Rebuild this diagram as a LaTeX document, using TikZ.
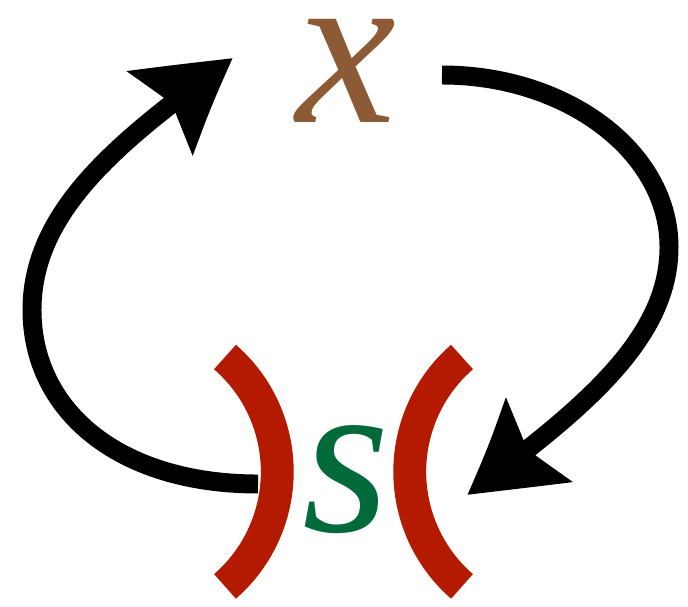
\documentclass[tikz,border=0pt]{standalone}
\usepackage{fontspec}
\setmainfont{Liberation Serif}
\usetikzlibrary{arrows.meta, bending}

\definecolor{xbrown}{RGB}{140,90,52}
\definecolor{sgreen}{RGB}{0,106,58}
\definecolor{parred}{RGB}{180,26,0}

\begin{document}
\begin{tikzpicture}[
    x=0.02cm, y=0.02cm,
    % Define the style for the two letters
    letter/.style={inner sep=0pt, font=\fontsize{128}{128}\selectfont\itshape},
    % Define the style for the curved arrows
    loop arrow/.style={line width=10.8pt,
        -{Stealth[length=1.86cm, width=2.04cm, inset=0.3cm, bend]}},
    % Define the style for the two brackets
    bracket/.style={draw=parred, line width=18.7pt}
]

    % --- Configuration ---
    \def\radius{3.04cm} % Radius of the brackets

    \useasboundingbox (0,0) rectangle (688,606);

    % --- The Two Letters ---
    \node[letter, text=xbrown] (x) at (346,535) {x};
    \node[letter, text=sgreen] (s) at (346,126) {s};

    % --- The Brackets round s ---
    \draw[bracket] (225,249) arc[start angle=49, end angle=-49, radius=\radius];
    \draw[bracket] (462,249) arc[start angle=131, end angle=229, radius=\radius];

    % --- Free ends of the arrows ---
    \coordinate (xout) at (442,531);
    \coordinate (sin)  at (467,111);
    \coordinate (sout) at (258,122);
    \coordinate (xin)  at (233,548);

    % Right arrow: from x down to the right bracket
    \draw[loop arrow] (xout) .. controls (567,531) and (669,454) .. (669,359)
                             .. controls (669,269) and (587,199) .. (sin);

    % Left arrow: from the left bracket back up to x
    \draw[loop arrow] (sout) .. controls (118,122) and (32,196) .. (32,296)
                             .. controls (32,396) and (120,466) .. (xin);

\end{tikzpicture}
\end{document}
